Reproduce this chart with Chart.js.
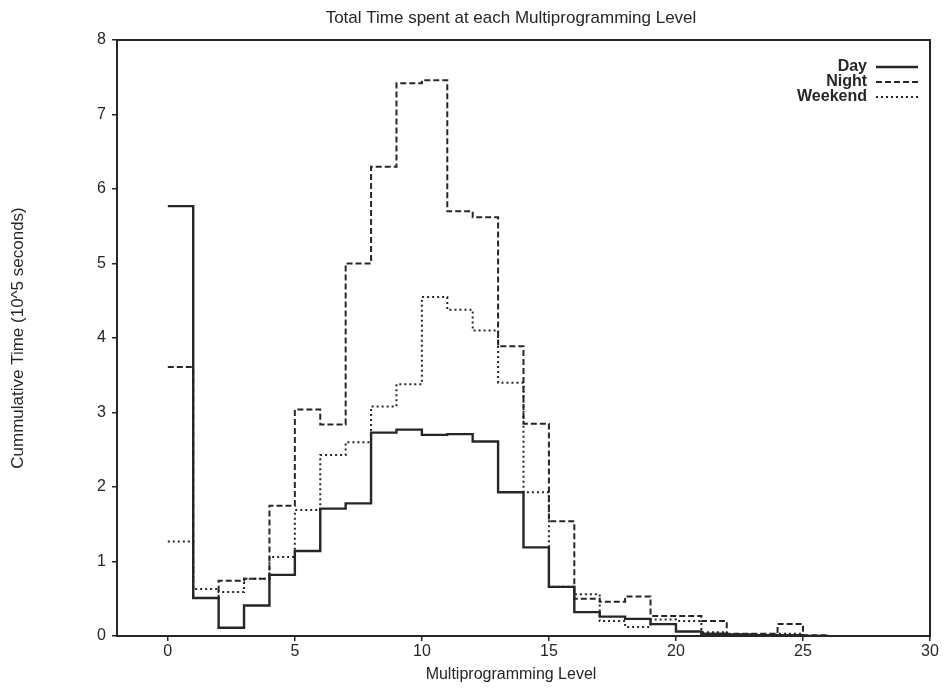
<!DOCTYPE html>
<html>
<head>
<meta charset="utf-8">
<script src="https://cdn.jsdelivr.net/npm/chart.js@4"></script>
<style>
  html, body { margin: 0; padding: 0; background: #fff; }
  #wrap { width: 946px; height: 688px; }
</style>
</head>
<body>
<div id="wrap"><canvas id="mplChart" width="946" height="688"></canvas></div>
<script>
// Multiprogramming level (left edge of each step)
const levels = [0, 1, 2, 3, 4, 5, 6, 7, 8, 9, 10, 11, 12, 13, 14, 15, 16, 17, 18, 19, 20, 21, 22, 23, 24, 25, 26];

// cumulative time, 10^5 seconds
const day     = [5.77, 0.51, 0.11, 0.41, 0.82, 1.14, 1.71, 1.78, 2.73, 2.77, 2.70, 2.71, 2.61, 1.93, 1.19, 0.66, 0.32, 0.26, 0.23, 0.16, 0.06, 0.03, 0.02, 0.01, 0.01, 0.00, 0.00];
const night   = [3.61, 0.51, 0.74, 0.77, 1.75, 3.04, 2.84, 5.00, 6.30, 7.42, 7.46, 5.70, 5.62, 3.89, 2.85, 1.54, 0.50, 0.46, 0.53, 0.27, 0.27, 0.20, 0.03, 0.03, 0.16, 0.01, 0.01];
const weekend = [1.27, 0.63, 0.59, 0.77, 1.06, 1.69, 2.43, 2.60, 3.08, 3.38, 4.55, 4.38, 4.10, 3.40, 1.93, 0.66, 0.56, 0.20, 0.12, 0.22, 0.20, 0.05, 0.02, 0.02, 0.03, 0.00, 0.00];

const seriesNames = ['Day', 'Night', 'Weekend'];
const xTicks = [0, 5, 10, 15, 20, 25, 30];
const yTicks = [0, 1, 2, 3, 4, 5, 6, 7, 8];

const ink = '#262626';
const font = "'Liberation Sans', Arial, sans-serif";

const toPoints = vals => levels.map((x, i) => ({ x: x, y: vals[i] }));

// frame, titles and gnuplot-style legend
const decor = {
    id: 'decor',
    afterDraw(chart) {
        const { ctx, chartArea: a } = chart;
        ctx.save();
        ctx.strokeStyle = ink;
        ctx.lineWidth = 2;
        ctx.setLineDash([]);
        ctx.strokeRect(a.left, a.top, a.right - a.left, a.bottom - a.top);

        ctx.fillStyle = ink;
        ctx.font = '17px ' + font;
        ctx.textAlign = 'center';
        ctx.textBaseline = 'middle';
        ctx.fillText('Total Time spent at each Multiprogramming Level', 511, 18);

        ctx.font = '16px ' + font;
        ctx.fillText('Multiprogramming Level', 511, 675);

        ctx.font = 'bold 16px ' + font;
        ctx.textAlign = 'right';
        chart.data.datasets.forEach((ds, i) => {
            const y = 67 + i * 15;
            ctx.fillText(ds.label, 867, y);
            ctx.beginPath();
            ctx.lineWidth = ds.borderWidth;
            ctx.setLineDash(ds.borderDash || []);
            ctx.moveTo(876, y);
            ctx.lineTo(918, y);
            ctx.stroke();
        });
        ctx.restore();
    }
};

const ctx = document.getElementById('mplChart').getContext('2d');
new Chart(ctx, {
    type: 'line',
    data: {
        datasets: [
            { label: seriesNames[0], data: toPoints(day), borderColor: ink, borderWidth: 2.4, borderDash: [] },
            { label: seriesNames[1], data: toPoints(night), borderColor: ink, borderWidth: 2, borderDash: [6, 3] },
            { label: seriesNames[2], data: toPoints(weekend), borderColor: ink, borderWidth: 2, borderDash: [2, 3] }
        ]
    },
    options: {
        responsive: false,
        animation: false,
        layout: { padding: { top: 40, right: 16, left: 0, bottom: 0 } },
        elements: {
            point: { radius: 0 },
            line: { stepped: 'before', tension: 0, fill: false }
        },
        plugins: {
            legend: { display: false },
            title: { display: false },
            tooltip: { enabled: false }
        },
        scales: {
            x: {
                type: 'linear',
                min: -2,
                max: 30,
                afterBuildTicks: s => { s.ticks = xTicks.map(v => ({ value: v })); },
                afterFit: s => { s.height = 52; },
                border: { display: false },
                grid: { display: true, drawOnChartArea: false, drawTicks: true, tickLength: 5, color: ink, lineWidth: 1.5 },
                ticks: { color: ink, font: { family: font, size: 16 }, padding: 1, maxRotation: 0 },
                title: { display: false }
            },
            y: {
                min: 0,
                max: 8,
                afterBuildTicks: s => { s.ticks = yTicks.map(v => ({ value: v })); },
                afterFit: s => { s.width = 117; },
                border: { display: false },
                grid: { display: true, drawOnChartArea: false, drawTicks: true, tickLength: 5, color: ink, lineWidth: 1.5 },
                ticks: { color: ink, font: { family: font, size: 16 }, padding: 6 },
                title: { display: true, text: 'Cummulative Time (10^5 seconds)', color: ink, font: { family: font, size: 17 }, padding: { top: 8, bottom: 0 } }
            }
        }
    },
    plugins: [decor]
});
</script>
</body>
</html>
